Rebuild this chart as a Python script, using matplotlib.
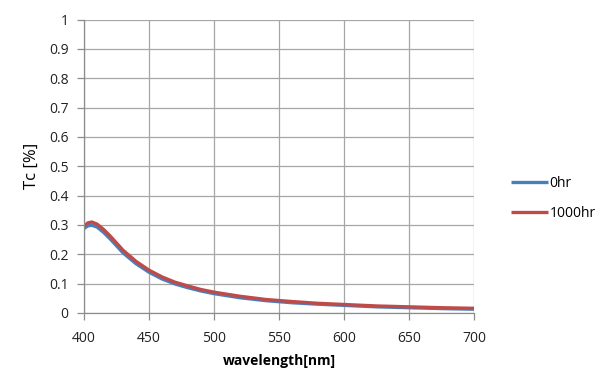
import matplotlib
matplotlib.use("Agg")
import matplotlib.pyplot as plt

wavelength = [400, 403, 406, 410, 415, 420, 430, 440, 450, 460, 470, 480, 490, 500,
              520, 540, 560, 580, 600, 625, 650, 675, 700]
tc_0hr = [0.288, 0.297, 0.299, 0.293, 0.275, 0.253, 0.205, 0.168, 0.139, 0.116, 0.099,
          0.086, 0.075, 0.066, 0.052, 0.042, 0.035, 0.030, 0.026, 0.021, 0.018, 0.015, 0.013]
tc_1000hr = [0.296, 0.307, 0.310, 0.303, 0.285, 0.263, 0.214, 0.176, 0.146, 0.123, 0.105,
             0.092, 0.080, 0.071, 0.057, 0.046, 0.039, 0.033, 0.029, 0.024, 0.021, 0.018, 0.016]
series_names = ["0hr", "1000hr"]
xticks = [400, 450, 500, 550, 600, 650, 700]
yticks = [0, 0.1, 0.2, 0.3, 0.4, 0.5, 0.6, 0.7, 0.8, 0.9, 1]
ytick_labels = ["0", "0.1", "0.2", "0.3", "0.4", "0.5", "0.6", "0.7", "0.8", "0.9", "1"]

plt.rcParams['font.family'] = ['Open Sans', 'DejaVu Sans']

fig = plt.figure(figsize=(6.05, 3.71), dpi=100)
ax = fig.add_axes([84/605, 1-313/371, (474-84)/605, (313-19.5)/371])

ax.plot(wavelength, tc_0hr, color='#4a7ebb', lw=2.4, label=series_names[0], solid_capstyle='butt')
ax.plot(wavelength, tc_1000hr, color='#be4b48', lw=2.4, label=series_names[1], solid_capstyle='butt')

ax.set_xlim(400, 700)
ax.set_ylim(0, 1)
ax.set_xticks(xticks)
ax.set_yticks(yticks)
ax.set_yticklabels(ytick_labels)
ax.grid(True, color='#a6a6a6', lw=0.9)
ax.set_axisbelow(True)
for s in ['top', 'right']:
    ax.spines[s].set_visible(False)
for s in ['left', 'bottom']:
    ax.spines[s].set_color('#8c8c8c')
    ax.spines[s].set_linewidth(0.9)
ax.tick_params(axis='both', colors='#8c8c8c', length=5, width=0.9, labelsize=10, labelcolor='#222222')
ax.tick_params(axis='x', pad=8)
ax.tick_params(axis='y', pad=6)

ax.set_xlabel('wavelength[nm]', fontsize=10, fontweight='bold', labelpad=6)
ax.set_ylabel('Tc [%]', fontsize=12, labelpad=7)

leg = ax.legend(loc='center left', bbox_to_anchor=(1.064, 0.39), frameon=False,
                fontsize=10, handlelength=2.6, handletextpad=0.15, labelspacing=1.1)

fig.savefig('out.png', dpi=100)
